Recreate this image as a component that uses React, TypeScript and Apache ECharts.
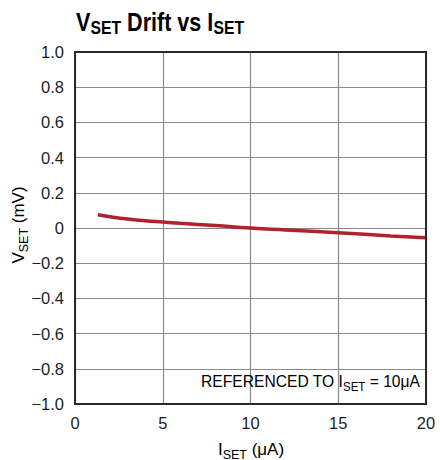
import React, { useEffect, useRef } from "react";
import * as echarts from "echarts";

const iSet: number[] = [1.3, 2, 3, 4, 5, 6, 8, 10, 12, 15, 18, 20];
const vSetDrift: number[] = [0.075, 0.064, 0.051, 0.041, 0.034, 0.027, 0.014, 0, -0.011, -0.027, -0.045, -0.056];
const xTicks: number[] = [0, 5, 10, 15, 20];
const yTicks: number[] = [-1, -0.8, -0.6, -0.4, -0.2, 0, 0.2, 0.4, 0.6, 0.8, 1];

const FONT = "'Liberation Sans', Arial, Helvetica, sans-serif";
const INK = "#1e1e1e";

const GL = 75;
const GT = 52;
const GW = 351;
const GH = 352;

export default function App() {
  const ref = useRef<HTMLDivElement>(null);
  useEffect(() => {
    if (!ref.current) return;
    const chart = echarts.init(ref.current, null, { renderer: "svg" });
    const mk = (size: number, subSize: number, drop: number, bold = false) => ({
      a: { fontFamily: FONT, fontSize: size, fontWeight: bold ? "bold" : "normal", color: INK, verticalAlign: "middle" },
      b: { fontFamily: FONT, fontSize: subSize, fontWeight: bold ? "bold" : "normal", color: INK, verticalAlign: "middle", padding: [drop, 0, 0, 0] },
    });
    chart.setOption({
      animation: false,
      backgroundColor: "#fff",
      grid: { left: GL, right: 440 - GL - GW, top: GT, bottom: 460 - GT - GH, show: false },
      xAxis: {
        type: "value",
        min: 0,
        max: 20,
        interval: 5,
        axisLine: { show: false },
        axisTick: { show: false },
        splitLine: { show: true, lineStyle: { color: "#8a8a8a", width: 1.2 } },
        axisLabel: {
          fontFamily: FONT,
          fontSize: 16.5,
          color: INK,
          margin: 10,
          formatter: (v: number) => (xTicks.includes(v) ? String(v) : ""),
        },
      },
      yAxis: {
        type: "value",
        min: -1,
        max: 1,
        interval: 0.2,
        axisLine: { show: false },
        axisTick: { show: false },
        splitLine: { show: true, lineStyle: { color: "#8a8a8a", width: 1.2 } },
        axisLabel: {
          fontFamily: FONT,
          fontSize: 16.5,
          color: INK,
          margin: 11,
          formatter: (v: number) => {
            const r = Math.round(v * 10) / 10;
            if (!yTicks.some((t) => Math.abs(t - r) < 1e-9)) return "";
            if (r === 0) return "0";
            return r.toFixed(1).replace("-", "\u2212");
          },
        },
      },
      series: [
        {
          type: "line",
          data: iSet.map((x, i) => [x, vSetDrift[i]]),
          smooth: true,
          showSymbol: false,
          lineStyle: { color: "#b1232c", width: 3.5 },
        },
      ],
      graphic: [
        {
          type: "rect",
          shape: { x: GL, y: GT, width: GW, height: GH },
          style: { fill: "none", stroke: "#2a2a2a", lineWidth: 2 },
          z: 10,
        },
        {
          type: "text",
          x: 76,
          y: 22,
          scaleX: 0.83,
          style: {
            text: "{a|V}{b|SET}{a| Drift vs I}{b|SET}",
            textVerticalAlign: "middle",
            rich: mk(26, 19, 10, true),
          },
        },
        {
          type: "text",
          x: 420,
          y: 381,
          z: 20,
          scaleX: 0.92,
          style: {
            text: "{a|REFERENCED TO I}{b|SET}{a| = 10\u03bcA}",
            textAlign: "right",
            textVerticalAlign: "middle",
            rich: mk(17, 12.5, 11),
          },
        },
        {
          type: "text",
          x: 251,
          y: 449,
          style: {
            text: "{a|I}{b|SET}{a| (\u03bcA)}",
            textAlign: "center",
            textVerticalAlign: "middle",
            rich: mk(17, 12.5, 11),
          },
        },
        {
          type: "text",
          x: 18.5,
          y: 225,
          rotation: Math.PI / 2,
          style: {
            text: "{a|V}{b|SET}{a| (mV)}",
            textAlign: "center",
            textVerticalAlign: "middle",
            rich: mk(17, 12.5, 11),
          },
        },
      ],
    });
    return () => chart.dispose();
  }, []);
  return <div ref={ref} style={{ position: "fixed", left: 0, top: 0, width: 440, height: 460 }} />;
}
